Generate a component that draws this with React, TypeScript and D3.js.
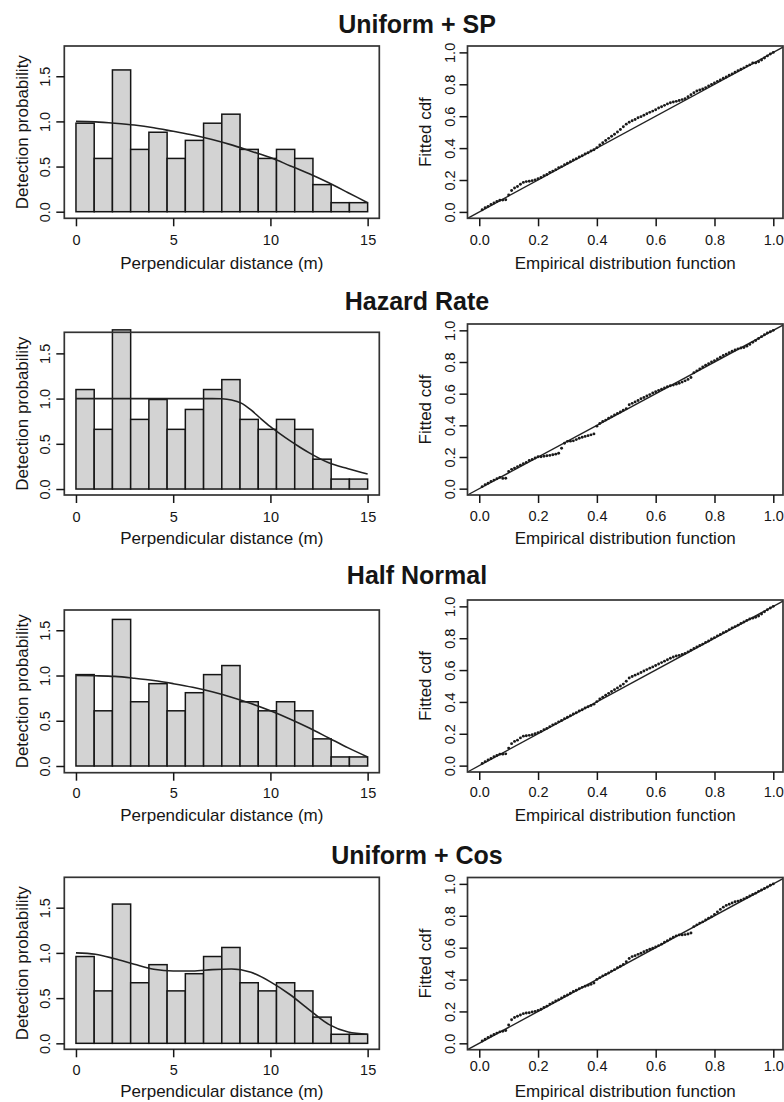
import React, { useRef, useEffect } from "react";
import * as d3 from "d3";

const FONT = "'Liberation Sans', Arial, Helvetica, sans-serif";
const INK = "#151515";

const models = ["Uniform + SP", "Hazard Rate", "Half Normal", "Uniform + Cos"];

// histogram breaks, perpendicular distance (m)
const breaks = [0, 0.9375, 1.875, 2.8125, 3.75, 4.6875, 5.625, 6.5625, 7.5, 8.4375, 9.375, 10.3125, 11.25, 12.1875, 13.125, 14.0625, 15];

// scaled bar heights
const barsSP = [0.98, 0.59, 1.57, 0.69, 0.88, 0.59, 0.79, 0.98, 1.08, 0.69, 0.59, 0.69, 0.59, 0.3, 0.1, 0.1];
const barsHR = [1.1, 0.66, 1.76, 0.77, 0.99, 0.66, 0.88, 1.1, 1.21, 0.77, 0.66, 0.77, 0.66, 0.33, 0.11, 0.11];
const barsHN = [1.01, 0.61, 1.62, 0.71, 0.91, 0.61, 0.81, 1.01, 1.11, 0.71, 0.61, 0.71, 0.61, 0.3, 0.1, 0.1];
const barsCos = [0.96, 0.58, 1.54, 0.67, 0.87, 0.58, 0.77, 0.96, 1.06, 0.67, 0.58, 0.67, 0.58, 0.29, 0.1, 0.1];

// fitted detection function
const fitX = [0, 1, 2, 3, 4, 5, 6, 7, 8, 9, 10, 11, 12, 13, 14, 15];
const fitSP = [1.0, 0.995, 0.98, 0.96, 0.93, 0.89, 0.85, 0.8, 0.74, 0.67, 0.6, 0.51, 0.42, 0.32, 0.21, 0.1];
const fitHN = [1.0, 0.997, 0.99, 0.97, 0.945, 0.91, 0.87, 0.82, 0.76, 0.69, 0.61, 0.52, 0.42, 0.31, 0.2, 0.1];
const fitCos = [1.0, 0.985, 0.935, 0.875, 0.82, 0.8, 0.8, 0.815, 0.822, 0.785, 0.68, 0.54, 0.37, 0.21, 0.125, 0.1];
const fitHRX = [0, 2, 4, 6, 7, 7.5, 8, 8.5, 9, 9.5, 10, 10.5, 11, 11.5, 12, 13, 14, 15];
const fitHR = [1, 1, 1, 1, 1, 0.998, 0.985, 0.95, 0.875, 0.78, 0.69, 0.61, 0.535, 0.465, 0.4, 0.29, 0.225, 0.166];

// qq plots: empirical cdf at 0.01 .. 1.00, fitted cdf as offset from it (thousandths)
const ecdf = d3.range(1, 101).map((i) => i / 100);
const devSP = [
  4, 6, 5, 7, 6, 5, 3, -6, -14, 6,
  24, 30, 29, 33, 35, 30, 22, 16, 11, 8,
  6, 7, 5, 8, 6, 5, 7, 4, 6, 5,
  4, 5, 3, 4, 2, 3, 1, 2, 0, 3,
  10, 14, 18, 21, 24, 27, 31, 37, 44, 50,
  52, 51, 49, 50, 47, 46, 45, 44, 42, 40,
  41, 39, 38, 37, 34, 29, 23, 18, 14, 10,
  12, 15, 17, 18, 14, 11, 9, 10, 9, 8,
  8, 7, 8, 6, 7, 5, 6, 5, 4, 3,
  4, 2, 3, -6, -9, -8, -5, -2, 0, 0,
];
const devHR = [
  3, 5, 4, 6, 4, 3, 1, -15, -24, 8,
  12, 10, 9, 8, 7, 6, 8, 5, 4, 2,
  -8, -15, -22, -30, -36, -42, -46, -25, -3, -1,
  -10, -18, -20, -22, -25, -30, -35, -40, -44, -5,
  2, 4, 3, 5, 4, 6, 5, 4, 6, 5,
  20, 19, 18, 17, 18, 16, 15, 14, 15, 12,
  10, 8, 6, 4, 0, -6, -10, -14, -17, -19,
  -20, -18, 2, 4, 6, 8, 10, 9, 10, 8,
  9, 10, 11, 10, 9, 8, 6, 3, -2, -8,
  -10, -9, -6, -4, -2, 0, 2, 3, 1, 0,
];
const devHN = [
  4, 5, 6, 5, 6, 4, 2, -8, -16, 10,
  28, 32, 30, 34, 35, 28, 20, 14, 10, 7,
  5, 6, 4, 5, 6, 4, 5, 3, 5, 4,
  3, 4, 2, 3, 1, 2, 0, -2, -4, 2,
  8, 10, 12, 14, 15, 17, 18, 20, 22, 30,
  40, 40, 38, 36, 35, 34, 33, 32, 30, 29,
  28, 27, 26, 25, 24, 22, 18, 12, 8, 5,
  4, 5, 6, 5, 4, 3, 4, 3, 5, 4,
  5, 4, 5, 3, 4, 5, 3, 2, 3, 2,
  2, 1, -4, -8, -10, -8, -4, -1, 0, 0,
];
const devCos = [
  5, 6, 7, 6, 5, 4, 2, -4, -10, 15,
  38, 42, 40, 38, 36, 30, 22, 16, 10, 6,
  4, 5, 3, 6, 4, 5, 3, 4, 5, 3,
  4, 5, 3, 2, 1, -2, -6, -10, -12, 1,
  2, 3, 2, 1, 3, 2, 4, 3, 5, 12,
  22, 24, 20, 18, 15, 14, 12, 10, 6, 4,
  3, 2, 4, 3, 5, 6, 4, 0, -10, -18,
  -24, -28, 2, 3, 4, 2, 3, 5, 4, 8,
  14, 20, 24, 25, 22, 20, 18, 12, 8, 6,
  5, 4, 3, 2, 3, 2, 1, 0, 1, 0,
];

const histXTicks = [0, 5, 10, 15];
const histYTicks = [0, 0.5, 1, 1.5];
const qqTicks = [0, 0.2, 0.4, 0.6, 0.8, 1];

const bars = [barsSP, barsHR, barsHN, barsCos];
const fits = [
  fitX.map((x, i) => [x, fitSP[i]]),
  fitHRX.map((x, i) => [x, fitHR[i]]),
  fitX.map((x, i) => [x, fitHN[i]]),
  fitX.map((x, i) => [x, fitCos[i]]),
];
const devs = [devSP, devHR, devHN, devCos];

// page layout of each row (pixels)
const rows = [
  { title: 33, hTop: 46, hBot: 218.3, hY: [-0.073, 1.835], qTop: 46, qBot: 218.3, tick: 245.5, qTick: 245, label: 269 },
  { title: 310, hTop: 332.3, hBot: 495, hY: [-0.066, 1.733], qTop: 324, qBot: 495, tick: 521.5, qTick: 521, label: 544 },
  { title: 584, hTop: 610, hBot: 772.7, hY: [-0.074, 1.724], qTop: 600, qBot: 772, tick: 798, qTick: 797, label: 820.5 },
  { title: 864, hTop: 877.3, hBot: 1049.3, hY: [-0.066, 1.836], qTop: 877.5, qBot: 1049.7, tick: 1075, qTick: 1071, label: 1097 },
];

function bottomAxis(g, scale, ticks, fmt, y0, labelY) {
  const ax = g
    .append("g")
    .attr("transform", `translate(0,${y0})`)
    .call(d3.axisBottom(scale).tickValues(ticks).tickFormat(fmt).tickSize(8).tickSizeOuter(0));
  ax.select(".domain").remove();
  ax.selectAll(".tick line").attr("stroke", INK).attr("stroke-width", 1.5);
  ax.selectAll(".tick text")
    .attr("y", labelY - y0)
    .attr("dy", null)
    .attr("fill", INK)
    .attr("font-size", 14.5)
    .attr("font-family", FONT);
}

function leftAxis(g, scale, ticks, fmt, x0, labelX) {
  const ax = g
    .append("g")
    .attr("transform", `translate(${x0},0)`)
    .call(d3.axisLeft(scale).tickValues(ticks).tickFormat(fmt).tickSize(8).tickSizeOuter(0));
  ax.select(".domain").remove();
  ax.selectAll(".tick line").attr("stroke", INK).attr("stroke-width", 1.5);
  ax.selectAll(".tick text")
    .attr("x", 0)
    .attr("dy", "0.35em")
    .attr("text-anchor", "middle")
    .attr("transform", `translate(${labelX - x0},0) rotate(-90)`)
    .attr("fill", INK)
    .attr("font-size", 14.5)
    .attr("font-family", FONT);
}

function App() {
  const canvas = useRef(null);

  function drawChart() {
    const svg = d3.select(canvas.current).attr("width", 784).attr("height", 1102);
    svg.selectAll("*").remove();
    svg.append("rect").attr("width", 784).attr("height", 1102).attr("fill", "#fff");

    const hx = d3.scaleLinear().domain([-0.6, 15.6]).range([64.3, 379.3]);
    const qx = d3.scaleLinear().domain([-0.04, 1.033]).range([467.5, 783]);
    const fmt1 = d3.format(".1f");

    rows.forEach((row, k) => {
      const g = svg.append("g").attr("font-family", FONT);

      g.append("text")
        .attr("x", 417)
        .attr("y", row.title)
        .attr("text-anchor", "middle")
        .attr("font-weight", "bold")
        .attr("font-size", 25)
        .attr("fill", INK)
        .text(models[k]);

      // histogram + fitted detection function
      const hy = d3.scaleLinear().domain(row.hY).range([row.hBot, row.hTop]);

      g.selectAll("rect.bar")
        .data(bars[k])
        .enter()
        .append("rect")
        .attr("class", "bar")
        .attr("x", (d, i) => hx(breaks[i]))
        .attr("width", (d, i) => hx(breaks[i + 1]) - hx(breaks[i]))
        .attr("y", (d) => hy(d))
        .attr("height", (d) => hy(0) - hy(d))
        .attr("fill", "#d3d3d3")
        .attr("stroke", INK)
        .attr("stroke-width", 1.5);

      const line = d3
        .line()
        .x((d) => hx(d[0]))
        .y((d) => hy(d[1]))
        .curve(d3.curveMonotoneX);

      g.append("path")
        .attr("d", line(fits[k]))
        .attr("fill", "none")
        .attr("stroke", "#222")
        .attr("stroke-width", 1.6);

      g.append("rect")
        .attr("x", hx.range()[0])
        .attr("y", row.hTop)
        .attr("width", hx.range()[1] - hx.range()[0])
        .attr("height", row.hBot - row.hTop)
        .attr("fill", "none")
        .attr("stroke", "#333")
        .attr("stroke-width", 1.7);

      bottomAxis(g, hx, histXTicks, d3.format("d"), row.hBot, row.tick);
      leftAxis(g, hy, histYTicks, fmt1, hx.range()[0], 45);

      g.append("text")
        .attr("x", (hx.range()[0] + hx.range()[1]) / 2)
        .attr("y", row.label)
        .attr("text-anchor", "middle")
        .attr("font-size", 17)
        .attr("fill", INK)
        .text("Perpendicular distance (m)");

      g.append("text")
        .attr("text-anchor", "middle")
        .attr("dy", "0.35em")
        .attr("transform", `translate(21.7,${(row.hTop + row.hBot) / 2}) rotate(-90)`)
        .attr("font-size", 17)
        .attr("fill", INK)
        .text("Detection probability");

      // qq plot
      const qy = d3.scaleLinear().domain([-0.04, 1.04]).range([row.qBot, row.qTop]);
      const dom = qx.domain();

      g.append("line")
        .attr("x1", qx(dom[0]))
        .attr("y1", qy(dom[0]))
        .attr("x2", qx(dom[1]))
        .attr("y2", qy(dom[1]))
        .attr("stroke", "#222")
        .attr("stroke-width", 1.4);

      g.selectAll("circle.pt")
        .data(ecdf)
        .enter()
        .append("circle")
        .attr("class", "pt")
        .attr("cx", (d) => qx(d))
        .attr("cy", (d, i) => qy(d + devs[k][i] / 1000))
        .attr("r", 1.45)
        .attr("fill", "#1a1a1a");

      g.append("rect")
        .attr("x", qx.range()[0])
        .attr("y", row.qTop)
        .attr("width", qx.range()[1] - qx.range()[0])
        .attr("height", row.qBot - row.qTop)
        .attr("fill", "none")
        .attr("stroke", "#333")
        .attr("stroke-width", 1.7);

      bottomAxis(g, qx, qqTicks, fmt1, row.qBot, row.qTick);
      leftAxis(g, qy, qqTicks, fmt1, qx.range()[0], 450);

      g.append("text")
        .attr("x", (qx.range()[0] + qx.range()[1]) / 2)
        .attr("y", row.label)
        .attr("text-anchor", "middle")
        .attr("font-size", 17)
        .attr("fill", INK)
        .text("Empirical distribution function");

      g.append("text")
        .attr("text-anchor", "middle")
        .attr("dy", "0.35em")
        .attr("transform", `translate(425,${(row.qTop + row.qBot) / 2}) rotate(-90)`)
        .attr("font-size", 17)
        .attr("fill", INK)
        .text("Fitted cdf");
    });
  }

  useEffect(() => {
    drawChart();
  }, []);

  return (
    <>
      <svg ref={canvas} style={{ position: "absolute", left: 0, top: 0 }}></svg>
    </>
  );
}

export default App;
